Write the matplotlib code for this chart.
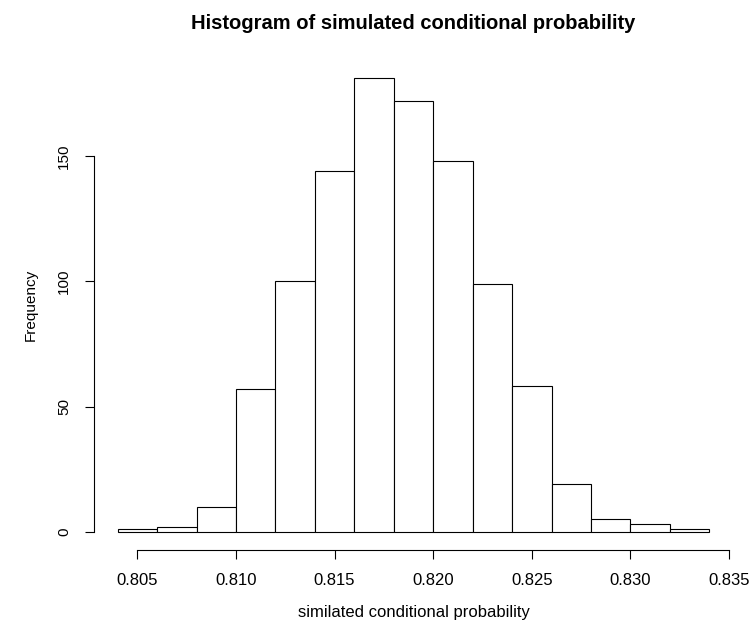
import matplotlib.pyplot as plt
import numpy as np

# R-style histogram: bins of width 0.002 from 0.804 to 0.834
bin_edges = [0.804, 0.806, 0.808, 0.810, 0.812, 0.814, 0.816, 0.818,
             0.820, 0.822, 0.824, 0.826, 0.828, 0.830, 0.832, 0.834]
counts = [1, 2, 10, 57, 100, 144, 181, 172, 148, 99, 58, 19, 5, 3, 1]

x_ticks = [0.805, 0.810, 0.815, 0.820, 0.825, 0.830, 0.835]
x_tick_labels = ["0.805", "0.810", "0.815", "0.820", "0.825", "0.830", "0.835"]
y_ticks = [0, 50, 100, 150]

plt.rcParams["font.family"] = ["Liberation Sans", "DejaVu Sans"]

fig = plt.figure(figsize=(7.54, 6.26), dpi=100)
ax = fig.add_axes([94 / 754, 76 / 626, 639 / 754, 490 / 626])

edges = np.array(bin_edges)
ax.bar(
    edges[:-1],
    counts,
    width=np.diff(edges),
    align="edge",
    facecolor="white",
    edgecolor="black",
    linewidth=0.8,
)

# R pads the data range by 4% on each side
x_pad = (edges[-1] - edges[0]) * 0.04
y_pad = max(counts) * 0.04
ax.set_xlim(edges[0] - x_pad, edges[-1] + x_pad)
ax.set_ylim(-y_pad, max(counts) + y_pad)

for side in ["top", "right"]:
    ax.spines[side].set_visible(False)
ax.spines["bottom"].set_bounds(x_ticks[0], x_ticks[-1])
ax.spines["left"].set_bounds(y_ticks[0], y_ticks[-1])
ax.spines["bottom"].set_linewidth(0.8)
ax.spines["left"].set_linewidth(0.8)

ax.set_xticks(x_ticks)
ax.set_xticklabels(x_tick_labels, fontsize=12)
ax.set_yticks(y_ticks)
ax.set_yticklabels([str(v) for v in y_ticks], rotation=90, va="center",
                   fontsize=11)
ax.tick_params(axis="both", length=6.5, width=0.8, pad=10)

ax.set_xlabel("similated conditional probability", fontsize=12, labelpad=12)
ax.set_ylabel("Frequency", fontsize=11, labelpad=14)
ax.set_title(
    "Histogram of simulated conditional probability",
    fontsize=14.5,
    fontweight="bold",
    pad=22,
)

fig.savefig("out.png", dpi=100)
